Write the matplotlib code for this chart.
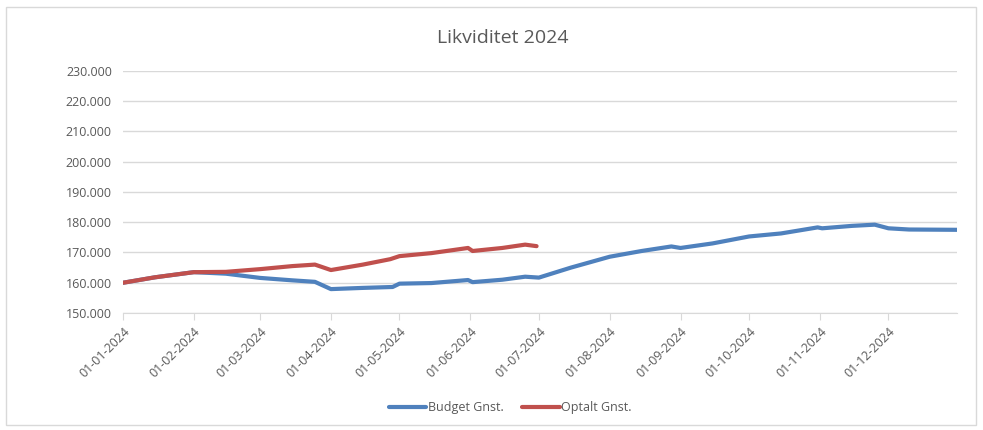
import matplotlib
matplotlib.use("Agg")
import matplotlib.pyplot as plt
import matplotlib.dates as mdates
from matplotlib.ticker import FuncFormatter, MultipleLocator
from matplotlib.patches import Rectangle
import pandas as pd

plt.rcParams['font.family'] = ['Open Sans', 'DejaVu Sans']

budget_dates = ["2024-01-01", "2024-01-15", "2024-02-01", "2024-02-15", "2024-03-01",
                "2024-03-15", "2024-03-25", "2024-04-01", "2024-04-15", "2024-04-28",
                "2024-05-01", "2024-05-15", "2024-05-31", "2024-06-02", "2024-06-15",
                "2024-06-25", "2024-07-01", "2024-07-15", "2024-08-01", "2024-08-15",
                "2024-08-28", "2024-09-01", "2024-09-15", "2024-10-01", "2024-10-15",
                "2024-10-31", "2024-11-02", "2024-11-15", "2024-11-25", "2024-12-01",
                "2024-12-10", "2024-12-31"]
budget_values = [160.0, 161.8, 163.5, 163.0, 161.6,
                 160.8, 160.3, 157.9, 158.3, 158.6,
                 159.7, 159.9, 160.9, 160.2, 161.0,
                 162.0, 161.7, 165.0, 168.6, 170.5,
                 172.0, 171.5, 173.0, 175.3, 176.3,
                 178.3, 178.0, 178.8, 179.2, 178.0,
                 177.6, 177.5]

optalt_dates = ["2024-01-01", "2024-01-15", "2024-02-01", "2024-02-15", "2024-03-01",
                "2024-03-15", "2024-03-25", "2024-04-01", "2024-04-15", "2024-04-27",
                "2024-05-01", "2024-05-15", "2024-05-31", "2024-06-02", "2024-06-15",
                "2024-06-25", "2024-06-30"]
optalt_values = [160.0, 161.8, 163.5, 163.6, 164.5,
                 165.5, 166.0, 164.2, 166.0, 167.8,
                 168.8, 169.8, 171.5, 170.5, 171.5,
                 172.6, 172.1]

y_min, y_max, y_step = 150, 230, 10

fig = plt.figure(figsize=(9.83, 4.30), dpi=100)
fig.patches.append(Rectangle((6/983, 5/430), 970/983, 418/430, transform=fig.transFigure,
                             fill=False, edgecolor="#D9D9D9", linewidth=1))
ax = fig.add_axes([123/983, 117/430, 834/983, 242/430])

bd = pd.to_datetime(budget_dates)
od = pd.to_datetime(optalt_dates)
ax.plot(bd, budget_values, color="#4F81BD", linewidth=3, label="Budget Gnst.", solid_capstyle="round")
ax.plot(od, optalt_values, color="#C0504D", linewidth=3, label="Optalt Gnst.", solid_capstyle="round")

ax.set_xlim(pd.Timestamp("2024-01-01"), pd.Timestamp("2024-12-31"))
ax.set_ylim(y_min, y_max)
ax.yaxis.set_major_locator(MultipleLocator(y_step))
ax.yaxis.set_major_formatter(FuncFormatter(lambda v, p: f"{int(v)}.000"))
ax.xaxis.set_major_locator(mdates.MonthLocator())
ax.xaxis.set_major_formatter(mdates.DateFormatter("%d-%m-%Y"))

ax.grid(axis="y", color="#D9D9D9", linewidth=1)
ax.set_axisbelow(True)
for s in ["top", "right", "left"]:
    ax.spines[s].set_visible(False)
ax.spines["bottom"].set_color("#D9D9D9")
ax.tick_params(axis="y", length=0, labelsize=9, labelcolor="#595959", pad=8)
ax.tick_params(axis="x", length=5, color="#D9D9D9", labelsize=9, labelcolor="#595959")
for lbl in ax.get_xticklabels():
    lbl.set_rotation(45)
    lbl.set_ha("right")
    lbl.set_rotation_mode("anchor")

fig.text(503/983, 1 - 38/430, "Likviditet 2024", ha="center", va="center", fontsize=14, color="#595959")
fig.legend(loc="center", bbox_to_anchor=(510/983, 1 - 408/430), ncol=2, frameon=False,
           fontsize=9, labelcolor="#595959", handlelength=3, columnspacing=1.5, handletextpad=0.1)

fig.savefig("out.png", dpi=100)
